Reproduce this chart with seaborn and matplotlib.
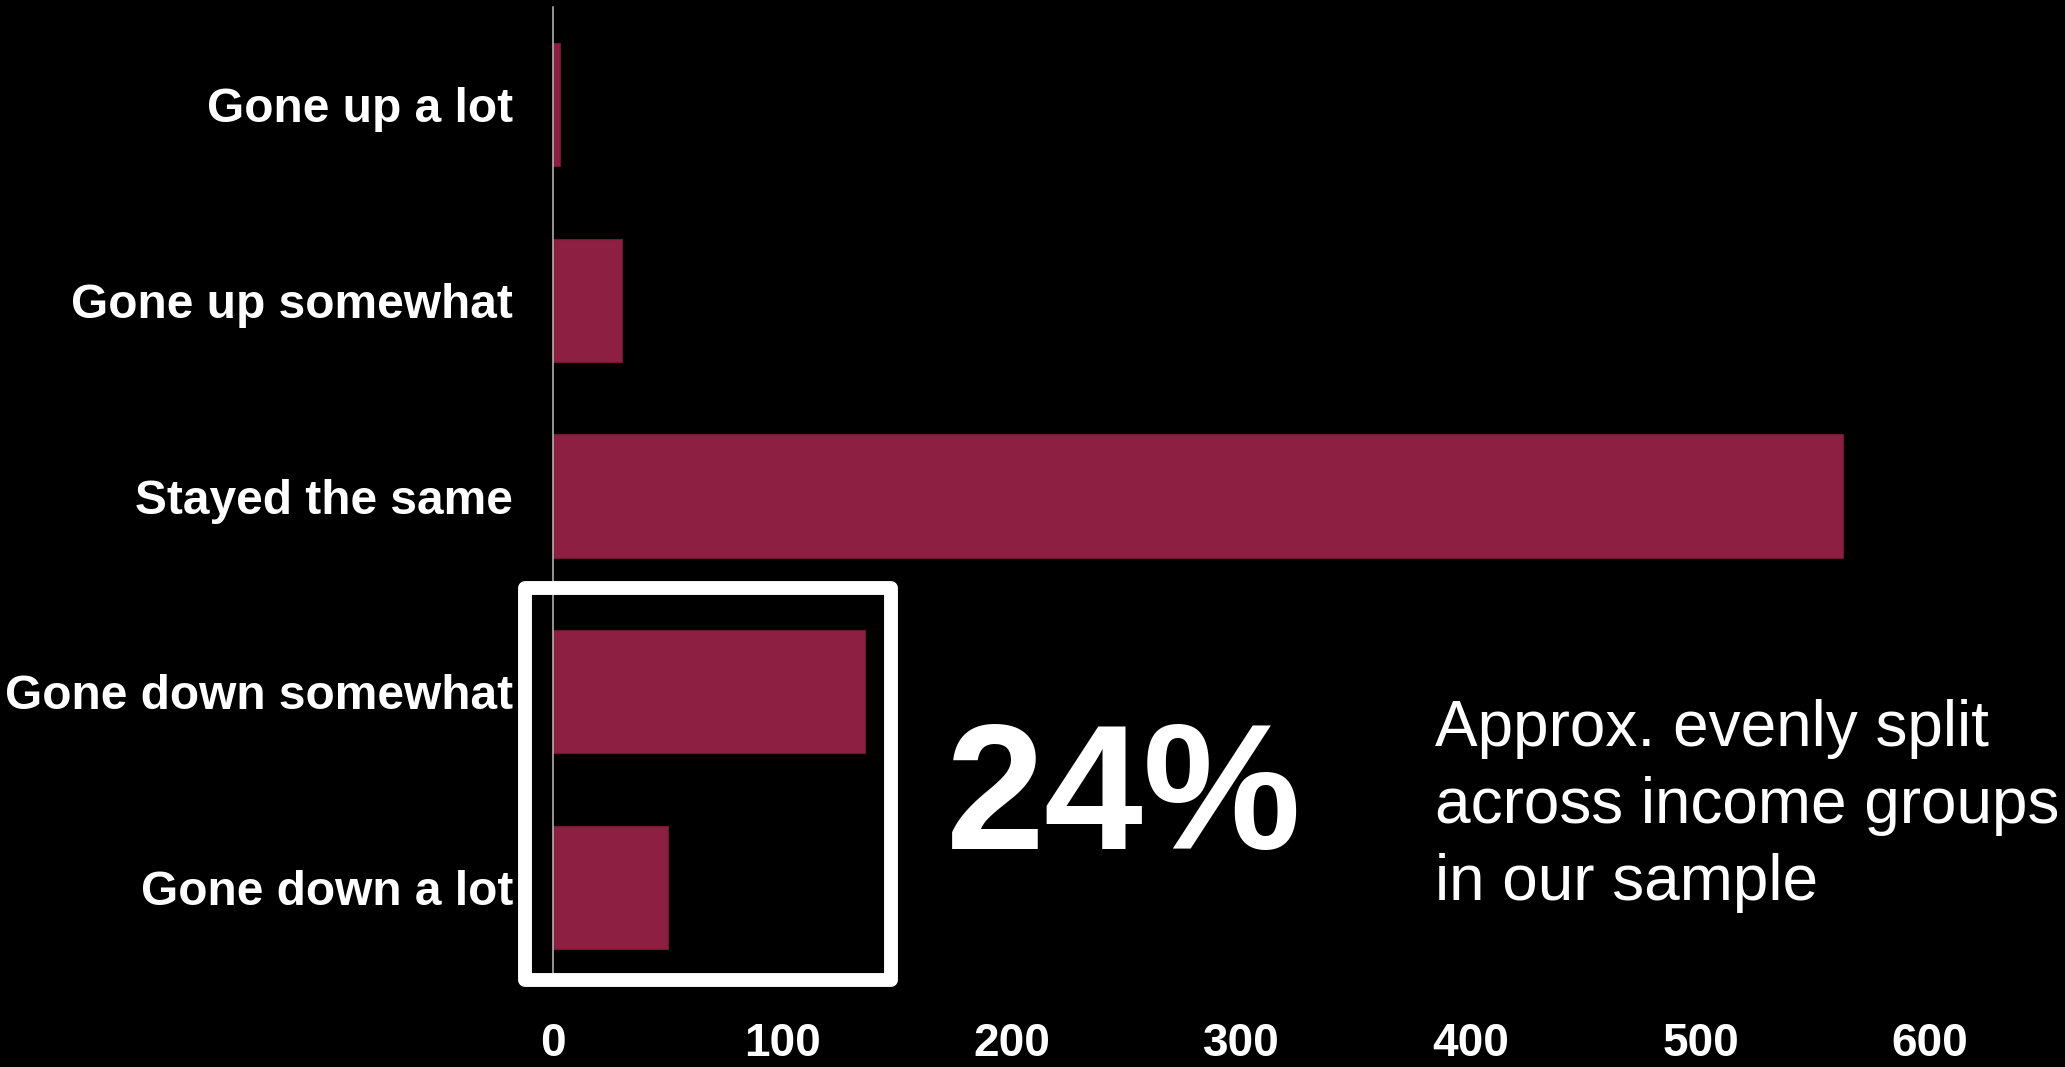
import matplotlib
matplotlib.use("Agg")
import matplotlib.pyplot as plt
from matplotlib.patches import Rectangle
import seaborn as sns
import pandas as pd

# Survey responses: how has your spending changed?
categories = ["Gone up a lot", "Gone up somewhat", "Stayed the same",
              "Gone down somewhat", "Gone down a lot"]
counts = [3, 30, 562, 136, 50]
x_ticks = [0, 100, 200, 300, 400, 500, 600]

share_down = round(100 * (counts[3] + counts[4]) / sum(counts))
note_lines = ["Approx. evenly split", "across income groups", "in our sample"]

BAR = "#8c1f42"
W, H = 2065, 1067

sns.set_style("dark", {"axes.facecolor": "black", "figure.facecolor": "black"})
plt.rcParams["font.family"] = ["Liberation Sans", "DejaVu Sans"]

fig = plt.figure(figsize=(W / 100, H / 100), dpi=100)
fig.patch.set_facecolor("black")

left, right, top, bottom = 553.3, W, 7, 985
ax = fig.add_axes([left / W, 1 - bottom / H, (right - left) / W, (bottom - top) / H])
ax.set_facecolor("black")

df = pd.DataFrame({"category": categories, "count": counts})
sns.barplot(data=df, x="count", y="category", orient="h", color=BAR,
            saturation=1, width=0.63, ax=ax, edgecolor="#6e1733", linewidth=0.8)

ax.set_xlim(0, (right - left) / 2.2945)
ax.set_ylim(4.5, -0.5)
ax.set_xticks(x_ticks)
ax.set_xticklabels([str(t) for t in x_ticks])
ax.set_xlabel("")
ax.set_ylabel("")
ax.grid(False)

for s in ["top", "right", "bottom"]:
    ax.spines[s].set_visible(False)
ax.spines["left"].set_visible(True)
ax.spines["left"].set_color("#bdbdbd")
ax.spines["left"].set_linewidth(1.1)

ax.tick_params(axis="y", length=0, pad=29, labelsize=34.5, labelcolor="white")
ax.tick_params(axis="x", length=0, pad=27, labelsize=33, labelcolor="white")
for lbl in ax.get_yticklabels() + ax.get_xticklabels():
    lbl.set_fontweight("bold")

# Highlight frame around the "gone down" responses
bx0, bx1, by0, by1 = 525, 891, 587.5, 980
frame = Rectangle((bx0 / W, 1 - by1 / H), (bx1 - bx0) / W, (by1 - by0) / H,
                  transform=fig.transFigure, fill=False, edgecolor="white",
                  linewidth=10, joinstyle="round", zorder=10)
fig.add_artist(frame)

fig.text(1124 / W, 1 - 849 / H, f"{share_down}%", color="white", fontsize=128,
         fontweight="bold", ha="center", va="baseline")

for i, line in enumerate(note_lines):
    fig.text(1435 / W, 1 - (746 + 77 * i) / H, line, color="white", fontsize=46,
             ha="left", va="baseline")

fig.savefig("out.png", dpi=100, facecolor="black")
